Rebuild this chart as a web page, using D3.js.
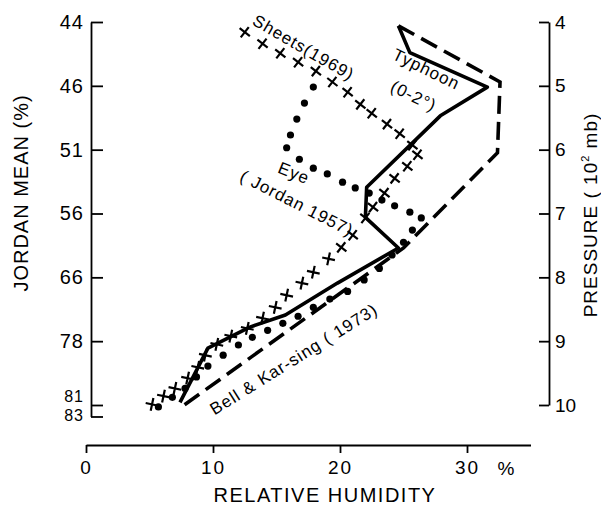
<!DOCTYPE html>
<html>
<head>
<meta charset="utf-8">
<script src="https://cdn.jsdelivr.net/npm/d3@7"></script>
<style>
  body { margin: 0; background: #fff; }
  svg { display: block; }
  text { font-family: "Liberation Sans", Arial, sans-serif; fill: #000; }
  .axis path, .axis line { stroke: #000; stroke-width: 1.8; fill: none; }
  .axis text { font-family: "Liberation Sans", Arial, sans-serif; }
</style>
</head>
<body>
<div id="chart"></div>
<script>
// Relative humidity (%) vs pressure (mb) profiles

// Typhoon (0-2 deg) mean, solid line: [pressure mb, RH %]
const typhoon = [
  [406, 24.6], [448, 25.5], [502, 31.6], [547, 27.9], [659, 22.1], [706, 22.0],
  [754, 24.6], [809, 19.8], [859, 15.7], [878, 12.9], [911, 9.6], [996, 7.4]
];

// Bell & Kar-sing (1973), dashed line
const bellKarSing = [
  [406, 24.6], [494, 32.6], [605, 32.4], [754, 25.0], [1002, 7.6]
];

// Sheets (1969), cross markers
const sheets = [
  [416, 12.5], [434, 13.9], [449, 15.3], [463, 16.7], [477, 18.1], [494, 19.4],
  [510, 20.6], [529, 21.6], [543, 22.5], [560, 23.7], [575, 24.7], [593, 25.7],
  [608, 26.1], [626, 25.3], [645, 24.3], [668, 23.5], [690, 22.6], [707, 22.0],
  [734, 21.0], [753, 20.1], [771, 19.1], [792, 17.9], [809, 17.0], [828, 15.8],
  [847, 14.9], [864, 13.9], [880, 12.7], [892, 11.4], [905, 10.3], [922, 9.4],
  [941, 8.8], [958, 8.0], [974, 7.0], [986, 6.1], [999, 5.2]
];

// Eye (Jordan 1957), dot markers
const eye = [
  [502, 17.9], [527, 17.2], [552, 16.6], [577, 16.1], [597, 15.8], [615, 16.8],
  [629, 17.9], [638, 19.0], [651, 20.2], [660, 21.2], [668, 22.3], [679, 23.3],
  [688, 24.3], [698, 25.5], [707, 26.4], [726, 25.7], [745, 25.0], [765, 24.1],
  [786, 23.1], [804, 21.9], [822, 20.6], [834, 19.2], [847, 17.9], [861, 16.7],
  [872, 15.5], [883, 14.3], [894, 13.1], [906, 12.0], [922, 10.8], [939, 9.6],
  [956, 8.7], [974, 7.8], [988, 6.8], [1003, 5.7]
];

// axis ticks
const pressureTicks = [400, 500, 600, 700, 800, 900, 1000];
const jordanTicks = [400, 500, 600, 700, 800, 900, 1000, 1018];
const jordanLabels = ['44', '46', '51', '56', '66', '78', '81', '83'];
const rhTicks = [0, 10, 20, 30];

const W = 601, H = 507;

const svg = d3.select('#chart')
  .append('svg')
  .attr('width', W)
  .attr('height', H)
  .attr('viewBox', `0 0 ${W} ${H}`);

// Scales
const y = d3.scaleLinear().domain([400, 1000]).range([22, 405]);
const yLeft = y.copy().domain([400, 1018]).range([y(400), y(1018)]);
const x = d3.scaleLinear().domain([0, 35]).range([86, 86 + 35 * 12.7]);

const leftX = 91, rightX = 549, bottomY = 445;

// Left axis (Jordan mean)
const jordanFmt = d => jordanLabels[jordanTicks.indexOf(d)];
svg.append('g')
  .attr('class', 'axis')
  .attr('transform', `translate(${leftX},0)`)
  .call(d3.axisLeft(yLeft).tickValues(jordanTicks).tickFormat(jordanFmt)
    .tickSizeInner(-12).tickSizeOuter(0).tickPadding(7))
  .call(g => g.selectAll('text').style('font-size', '20px').style('letter-spacing', '1px'))
  .call(g => g.selectAll('.tick').filter(d => d >= 1000).select('text')
    .style('font-size', '16px').style('letter-spacing', '1px'))
  .call(g => g.selectAll('.tick').filter(d => d === 1000).select('text').attr('y', -9))
  .call(g => g.selectAll('.tick').filter(d => d === 1018).select('text').attr('y', -1));

// Right axis (pressure)
svg.append('g')
  .attr('class', 'axis')
  .attr('transform', `translate(${rightX},0)`)
  .call(d3.axisRight(y).tickValues(pressureTicks).tickFormat(d => d / 100)
    .tickSizeInner(-10).tickSizeOuter(0).tickPadding(6))
  .call(g => g.selectAll('text').style('font-size', '19px'));

// Bottom axis (relative humidity)
svg.append('g')
  .attr('class', 'axis')
  .attr('transform', `translate(0,${bottomY})`)
  .call(d3.axisBottom(x).tickValues(rhTicks).tickFormat(d3.format('d'))
    .tickSizeInner(8).tickSizeOuter(0).tickPadding(8))
  .call(g => g.selectAll('text').style('font-size', '19px').style('letter-spacing', '2px'));

svg.append('text')
  .attr('x', x(30) + 39)
  .attr('y', bottomY + 30)
  .attr('text-anchor', 'middle')
  .style('font-size', '19px')
  .text('%');

// Axis titles
svg.append('text')
  .attr('x', 325)
  .attr('y', 502)
  .attr('text-anchor', 'middle')
  .style('font-size', '20px')
  .style('letter-spacing', '1.5px')
  .text('RELATIVE HUMIDITY');

svg.append('text')
  .attr('transform', 'translate(28,193) rotate(-90)')
  .attr('text-anchor', 'middle')
  .style('font-size', '20px')
  .style('letter-spacing', '1px')
  .text('JORDAN MEAN (%)');

const pLabel = svg.append('text')
  .attr('transform', 'translate(597,215) rotate(-90)')
  .attr('text-anchor', 'middle')
  .style('font-size', '19px')
  .style('letter-spacing', '1px');
pLabel.append('tspan').text('PRESSURE ( 10');
pLabel.append('tspan').attr('dy', -8).style('font-size', '11px').text('2');
pLabel.append('tspan').attr('dy', 8).text(' mb)');

// Lines
const line = d3.line().x(d => x(d[1])).y(d => y(d[0]));

svg.append('path')
  .datum(typhoon)
  .attr('d', line)
  .attr('fill', 'none')
  .attr('stroke', '#000')
  .attr('stroke-width', 3.6)
  .attr('stroke-linejoin', 'round');

svg.append('path')
  .datum(bellKarSing)
  .attr('d', line)
  .attr('fill', 'none')
  .attr('stroke', '#000')
  .attr('stroke-width', 3.6)
  .attr('stroke-dasharray', '18,8');

// Sheets crosses
svg.append('g')
  .selectAll('path')
  .data(sheets)
  .enter()
  .append('path')
  .attr('transform', d => `translate(${x(d[1])},${y(d[0])}) rotate(${d[0] < 760 ? 38 : 12})`)
  .attr('d', 'M-6.5,0H6.5M0,-6.5V6.5')
  .attr('stroke', '#000')
  .attr('stroke-width', 2.2);

// Eye dots
svg.append('g')
  .selectAll('circle')
  .data(eye)
  .enter()
  .append('circle')
  .attr('cx', d => x(d[1]))
  .attr('cy', d => y(d[0]))
  .attr('r', 3.6)
  .attr('fill', '#000');

// Curve labels
const labels = [
  { text: 'Sheets(1969)', rh: 16.9, p: 448, angle: 30 },
  { text: 'Typhoon', rh: 26.6, p: 482, angle: 26 },
  { text: '(0-2°)', rh: 25.6, p: 524, angle: 26 },
  { text: 'Eye', rh: 16.2, p: 645, angle: 22 },
  { text: '( Jordan 1957)', rh: 16.4, p: 692, angle: 27 },
  { text: 'Bell & Kar-sing ( 1973)', rh: 16.6, p: 936, angle: -32 }
];

svg.append('g')
  .selectAll('text')
  .data(labels)
  .enter()
  .append('text')
  .attr('transform', d => `translate(${x(d.rh)},${y(d.p)}) rotate(${d.angle})`)
  .attr('text-anchor', 'middle')
  .style('font-size', '17px')
  .style('letter-spacing', '1px')
  .text(d => d.text);
</script>
</body>
</html>
